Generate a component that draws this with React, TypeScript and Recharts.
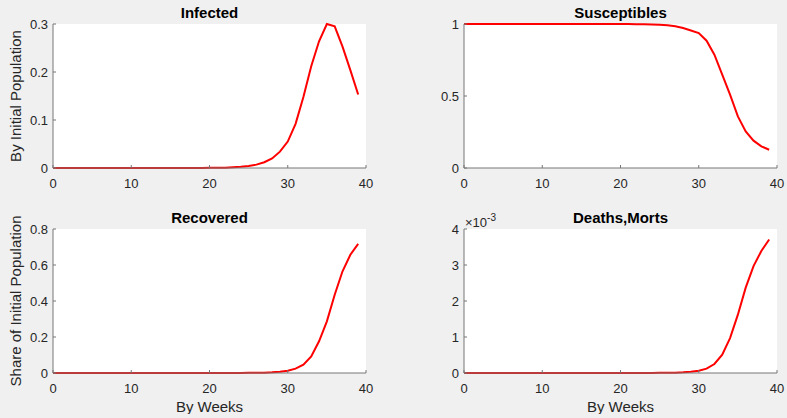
import { LineChart, Line, XAxis, YAxis, CartesianGrid } from 'recharts'

const weeks = [
  0, 1, 2, 3, 4, 5, 6, 7, 8, 9, 10, 11, 12, 13, 14, 15, 16, 17, 18, 19,
  20, 21, 22, 23, 24, 25, 26, 27, 28, 29, 30, 31, 32, 33, 34, 35, 36, 37, 38, 39,
]

const infected = [
  0, 0, 0, 0, 0, 0, 0, 0, 0, 0, 0, 0, 0, 0, 0, 0.0001, 0.0001, 0.0001, 0.0001, 0.0002,
  0.0003, 0.0004, 0.0007, 0.0014, 0.0024, 0.004, 0.007, 0.012, 0.02, 0.034,
  0.055, 0.092, 0.148, 0.212, 0.264, 0.3, 0.295, 0.253, 0.204, 0.153,
]

const susceptibles = [
  1, 1, 1, 1, 1, 1, 1, 1, 1, 1, 1, 1, 1, 1, 1, 1, 1, 1, 1, 0.9999,
  0.9998, 0.9996, 0.999, 0.998, 0.997, 0.995, 0.991, 0.984, 0.972, 0.955,
  0.937, 0.884, 0.787, 0.648, 0.509, 0.358, 0.254, 0.19, 0.15, 0.127,
]

const recovered = [
  0, 0, 0, 0, 0, 0, 0, 0, 0, 0, 0, 0, 0, 0, 0, 0, 0, 0, 0, 0,
  0.0001, 0.0001, 0.0002, 0.0003, 0.0004, 0.0007, 0.0012, 0.002, 0.004, 0.007,
  0.013, 0.024, 0.046, 0.092, 0.176, 0.287, 0.435, 0.565, 0.657, 0.717,
]

// deaths as share of population (axis shows x 10^-3)
const deaths = [
  0, 0, 0, 0, 0, 0, 0, 0, 0, 0, 0, 0, 0, 0, 0, 0, 0, 0, 0, 0,
  0, 0, 0.000001, 0.000002, 0.000002, 0.000004, 0.000006, 0.00001, 0.00002, 0.000035,
  0.000064, 0.00012, 0.00025, 0.00051, 0.00097, 0.00162, 0.00237, 0.00297, 0.00339, 0.00371,
]

const xTicks = [0, 10, 20, 30, 40]
const infectedTicks = [0, 0.1, 0.2, 0.3]
const susceptTicks = [0, 0.5, 1]
const recoveredTicks = [0, 0.2, 0.4, 0.6, 0.8]
const deathTicks = [0, 0.001, 0.002, 0.003, 0.004]

const rows = weeks.map((w, i) => ({
  week: w,
  infected: infected[i],
  susceptibles: susceptibles[i],
  recovered: recovered[i],
  deaths: deaths[i],
}))

const W = 393
const H = 209
const FONT = '"Liberation Sans", Arial, Helvetica, sans-serif'
const AXIS = '#777'
const TEXT = '#262626'

type PanelProps = {
  left: number
  top: number
  dataKey: string
  title: string
  yLabel?: string
  xLabel?: string
  domain: [number, number]
  ticks: number[]
  fmt?: (v: number) => string
  exponent?: boolean
}

function Panel({ left, top, dataKey, title, yLabel, xLabel, domain, ticks, fmt, exponent }: PanelProps) {
  return (
    <div style={{ position: 'absolute', left, top, width: W, height: H }}>
      <LineChart width={W} height={H} data={rows} margin={{ top: 24, right: 27, bottom: 11, left: 13 }}>
        <CartesianGrid fill="#fff" horizontal={false} vertical={false} />
        <XAxis
          type="number"
          dataKey="week"
          domain={[0, 40]}
          ticks={xTicks}
          height={30}
          tickSize={-3}
          tickMargin={14}
          stroke={AXIS}
          tick={{ fill: TEXT, fontSize: 13, fontFamily: FONT }}
        />
        <YAxis
          type="number"
          domain={domain}
          ticks={ticks}
          width={40}
          tickSize={-3}
          tickMargin={8}
          stroke={AXIS}
          tickFormatter={fmt}
          tick={{ fill: TEXT, fontSize: 13, fontFamily: FONT }}
        />
        <Line
          type="linear"
          dataKey={dataKey}
          stroke="#ff0000"
          strokeWidth={2}
          dot={false}
          isAnimationActive={false}
        />
      </LineChart>
      <svg
        width={W}
        height={H}
        style={{ position: 'absolute', left: 0, top: 0, pointerEvents: 'none', fontFamily: FONT }}
      >
        <text x={209.5} y={18} textAnchor="middle" fontSize={15} fontWeight="bold" fill="#000">
          {title}
        </text>
        {yLabel && (
          <text x={21} y={96} textAnchor="middle" fontSize={15} fill={TEXT} transform="rotate(-90 21 96)">
            {yLabel}
          </text>
        )}
        {xLabel && (
          <text x={209.5} y={206.5} textAnchor="middle" fontSize={15} fill={TEXT}>
            {xLabel}
          </text>
        )}
        {exponent && (
          <text x={54} y={22} fontSize={13} fill={TEXT}>
            ×10
            <tspan fontSize={10} dy={-6}>
              -3
            </tspan>
          </text>
        )}
      </svg>
    </div>
  )
}

export default function App() {
  return (
    <div style={{ position: 'absolute', left: 0, top: 0, width: 787, height: 418, background: '#f0f0f0' }}>
      <Panel
        left={0}
        top={0}
        dataKey="infected"
        title="Infected"
        yLabel="By Initial Population"
        domain={[0, 0.3]}
        ticks={infectedTicks}
      />
      <Panel
        left={411}
        top={0}
        dataKey="susceptibles"
        title="Susceptibles"
        domain={[0, 1]}
        ticks={susceptTicks}
      />
      <Panel
        left={0}
        top={205}
        dataKey="recovered"
        title="Recovered"
        yLabel="Share of Initial Population"
        xLabel="By Weeks"
        domain={[0, 0.8]}
        ticks={recoveredTicks}
      />
      <Panel
        left={411}
        top={205}
        dataKey="deaths"
        title="Deaths,Morts"
        xLabel="By Weeks"
        domain={[0, 0.004]}
        ticks={deathTicks}
        fmt={(v) => String(Math.round(v * 1000))}
        exponent
      />
    </div>
  )
}
